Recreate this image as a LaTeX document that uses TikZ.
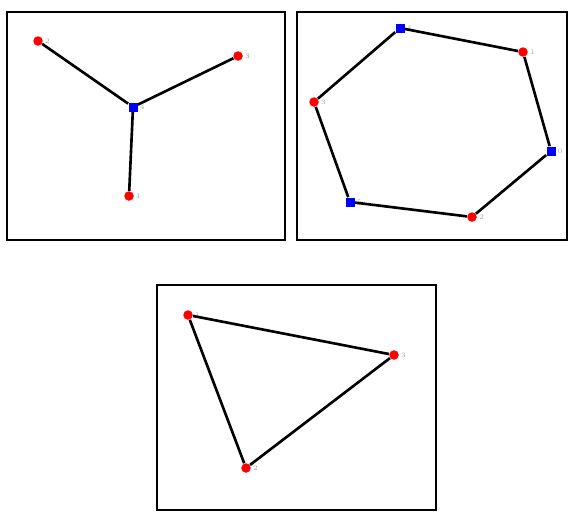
\documentclass[tikz,border=0pt]{standalone}
\usepackage{tikz}
\usetikzlibrary{positioning}

\tikzset{
  rednode/.style={circle,fill=red,inner sep=0pt,minimum size=0.19cm},
  bluenode/.style={rectangle,fill=blue,inner sep=0pt,minimum size=0.18cm},
  nlabel/.style={right,inner sep=1pt,text=gray!70,font=\fontsize{4}{4}\selectfont},
  edge/.style={line width=1.5pt},
  panel/.style={line width=1.2pt}
}

\begin{document}
\begin{tikzpicture}[x=0.02cm, y=-0.02cm]
  \useasboundingbox (0,0) rectangle (568,511);
  % panel frames
  \draw[panel] (7,12) rectangle (285,240);
  \draw[panel] (297,12) rectangle (567,240);
  \draw[panel] (157,285) rectangle (436,510);
  % star
  \node[bluenode] (s4) at (133,107) {};
  \node[rednode] (s2) at (38,41) {};
  \node[rednode] (s3) at (238,56) {};
  \node[rednode] (s1) at (129,196) {};
  \node[nlabel] at (s4.east) {4};
  \node[nlabel] at (s2.east) {2};
  \node[nlabel] at (s3.east) {3};
  \node[nlabel] at (s1.east) {1};
  \draw[edge] (s2) -- (s4);
  \draw[edge] (s3) -- (s4);
  \draw[edge] (s1) -- (s4);
  % hexagon
  \node[bluenode] (h4) at (400,28) {};
  \node[rednode] (h1) at (523,52) {};
  \node[bluenode] (h0) at (551,151) {};
  \node[rednode] (h2) at (472,217) {};
  \node[bluenode] (h5) at (350,202) {};
  \node[rednode] (h3) at (314,102) {};
  \node[nlabel] at (h4.east) {4};
  \node[nlabel] at (h1.east) {1};
  \node[nlabel] at (h0.east) {0};
  \node[nlabel] at (h2.east) {2};
  \node[nlabel] at (h5.east) {5};
  \node[nlabel] at (h3.east) {3};
  \draw[edge] (h4) -- (h1) -- (h0) -- (h2) -- (h5) -- (h3) -- (h4);
  % triangle
  \node[rednode] (t1) at (188,315) {};
  \node[rednode] (t3) at (394,355) {};
  \node[rednode] (t2) at (246,468) {};
  \node[nlabel] at (t1.east) {1};
  \node[nlabel] at (t3.east) {3};
  \node[nlabel] at (t2.east) {2};
  \draw[edge] (t1) -- (t3) -- (t2) -- (t1);
\end{tikzpicture}
\end{document}
